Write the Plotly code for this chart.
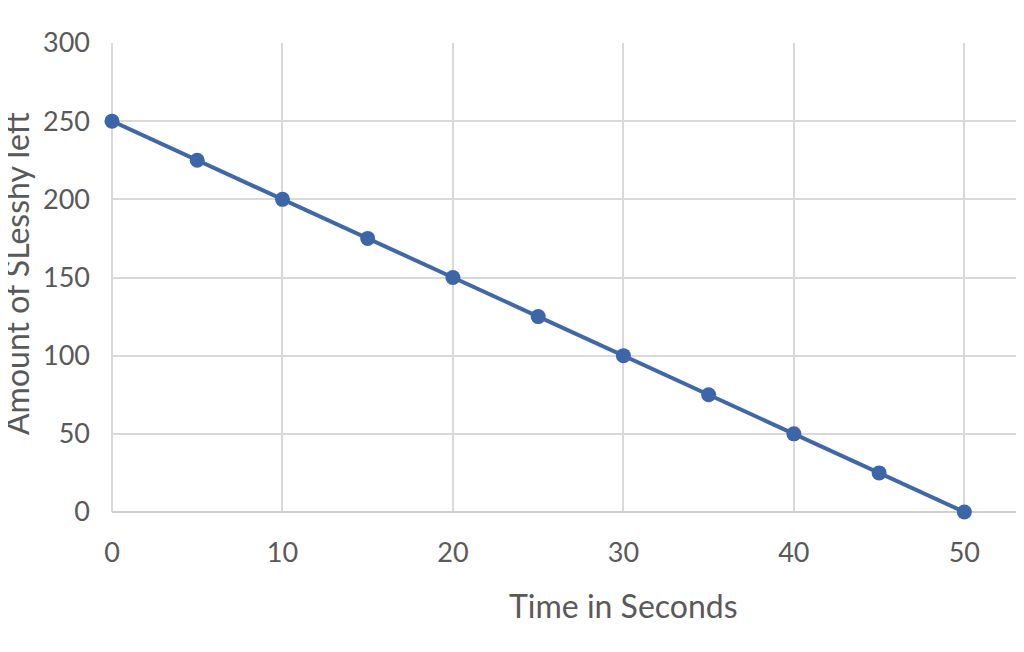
import plotly.graph_objects as go

# --- data ---
time_s = [0, 5, 10, 15, 20, 25, 30, 35, 40, 45, 50]
amount_left = [250, 225, 200, 175, 150, 125, 100, 75, 50, 25, 0]

x_ticks = [0, 10, 20, 30, 40, 50]
y_ticks = [0, 50, 100, 150, 200, 250, 300]

# page body has an 8px margin, so the figure is offset by (8, 8)
W, H = 1016, 644
left, top, bottom = 104, 35, 140
plot_w = W - left
plot_h = H - top - bottom

fig = go.Figure()
fig.add_trace(go.Scatter(
    x=time_s,
    y=amount_left,
    mode="lines+markers",
    line=dict(color="#4068a8", width=4),
    marker=dict(color="#3d66a8", size=15),
    cliponaxis=False,
    showlegend=False,
))

grid = "#d9d9d9"
font_family = "Lato, Open Sans, sans-serif"
tick_font = dict(family=font_family, size=27, color="#595959")

fig.update_layout(
    width=W,
    height=H,
    margin=dict(l=left, r=0, t=top, b=bottom),
    paper_bgcolor="white",
    plot_bgcolor="white",
    xaxis=dict(
        range=[0, 53.5],
        tickvals=x_ticks,
        showgrid=True, gridcolor=grid, gridwidth=1.5,
        zeroline=True, zerolinecolor=grid, zerolinewidth=1.5,
        showline=False,
        ticks="", ticklabelstandoff=22,
        tickfont=tick_font,
        fixedrange=True,
    ),
    yaxis=dict(
        range=[0, 300],
        tickvals=y_ticks,
        showgrid=True, gridcolor=grid, gridwidth=1.5,
        zeroline=True, zerolinecolor="#cfcfcf", zerolinewidth=2,
        showline=False,
        ticks="", ticklabelstandoff=21,
        tickfont=tick_font,
        fixedrange=True,
    ),
    annotations=[
        dict(
            text="Time in Seconds",
            xref="paper", yref="paper",
            x=(615 - left) / plot_w, y=-(597 - (top + plot_h)) / plot_h,
            xanchor="center", yanchor="middle",
            showarrow=False,
            font=dict(family=font_family, size=32, color="#595959"),
        ),
        dict(
            text="Amount of SLesshy left",
            xref="paper", yref="paper",
            x=(8 - left) / plot_w, y=1 - (266 - top) / plot_h,
            xanchor="center", yanchor="middle",
            textangle=-90,
            showarrow=False,
            font=dict(family=font_family, size=32, color="#595959"),
        ),
    ],
)

fig.write_html("out.html")
